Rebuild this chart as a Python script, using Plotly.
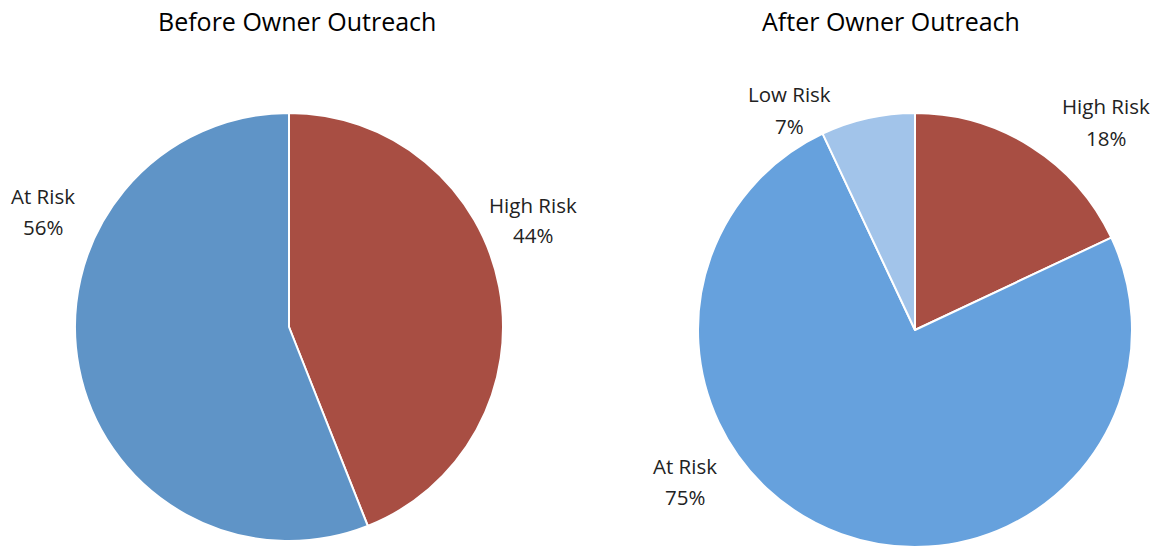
import plotly.graph_objects as go

# --- data -------------------------------------------------------------
before_labels = ["High Risk", "At Risk"]
before_values = [44, 56]

after_labels = ["High Risk", "At Risk", "Low Risk"]
after_values = [18, 75, 7]

titles = ["Before Owner Outreach", "After Owner Outreach"]

# --- styling ----------------------------------------------------------
W, H = 1161, 548
FONT = "Open Sans"

before_colors = ["#A84E43", "#5F94C7"]
after_colors = ["#A84E43", "#66A1DD", "#A2C4EA"]

# pie bounding boxes in pixels: (left, top, right, bottom)
before_box = (75, 113, 503, 541)
after_box = (698, 113, 1132, 547)

# label centres in pixels (x, first line y, second line y)
before_label_pos = {"High Risk": (533, 205, 235), "At Risk": (43, 196, 227)}
after_label_pos = {"High Risk": (1106, 106, 138), "At Risk": (685, 466, 497),
                   "Low Risk": (789, 94, 126)}
title_pos = [(297, 21), (891, 21)]


def px_x(x):
    return x / W


def px_y(y):
    return 1 - y / H


def domain(box):
    l, t, r, b = box
    return dict(x=[px_x(l), px_x(r)], y=[px_y(b), px_y(t)])


fig = go.Figure()

for labels, values, colors, box in [
    (before_labels, before_values, before_colors, before_box),
    (after_labels, after_values, after_colors, after_box),
]:
    fig.add_trace(go.Pie(
        labels=labels,
        values=values,
        sort=False,
        direction="clockwise",
        rotation=0,
        textinfo="none",
        hoverinfo="label+percent",
        marker=dict(colors=colors, line=dict(color="white", width=2)),
        domain=domain(box),
        showlegend=False,
    ))

annotations = []
for labels, values, pos in [
    (before_labels, before_values, before_label_pos),
    (after_labels, after_values, after_label_pos),
]:
    total = sum(values)
    for lab, val in zip(labels, values):
        x, y1, y2 = pos[lab]
        pct = round(100 * val / total)
        for txt, yy in [(lab, y1), (f"{pct}%", y2)]:
            annotations.append(dict(
                x=px_x(x), y=px_y(yy), xref="paper", yref="paper",
                text=txt, showarrow=False, xanchor="center", yanchor="middle",
                font=dict(family=FONT, size=20.5, color="#222222"),
            ))

for txt, (x, y) in zip(titles, title_pos):
    annotations.append(dict(
        x=px_x(x), y=px_y(y), xref="paper", yref="paper",
        text=txt, showarrow=False, xanchor="center", yanchor="middle",
        font=dict(family=FONT, size=25, color="#000000"),
    ))

fig.update_layout(
    width=W, height=H,
    margin=dict(l=0, r=0, t=0, b=0),
    paper_bgcolor="white", plot_bgcolor="white",
    annotations=annotations,
)

fig.write_html("out.html")
